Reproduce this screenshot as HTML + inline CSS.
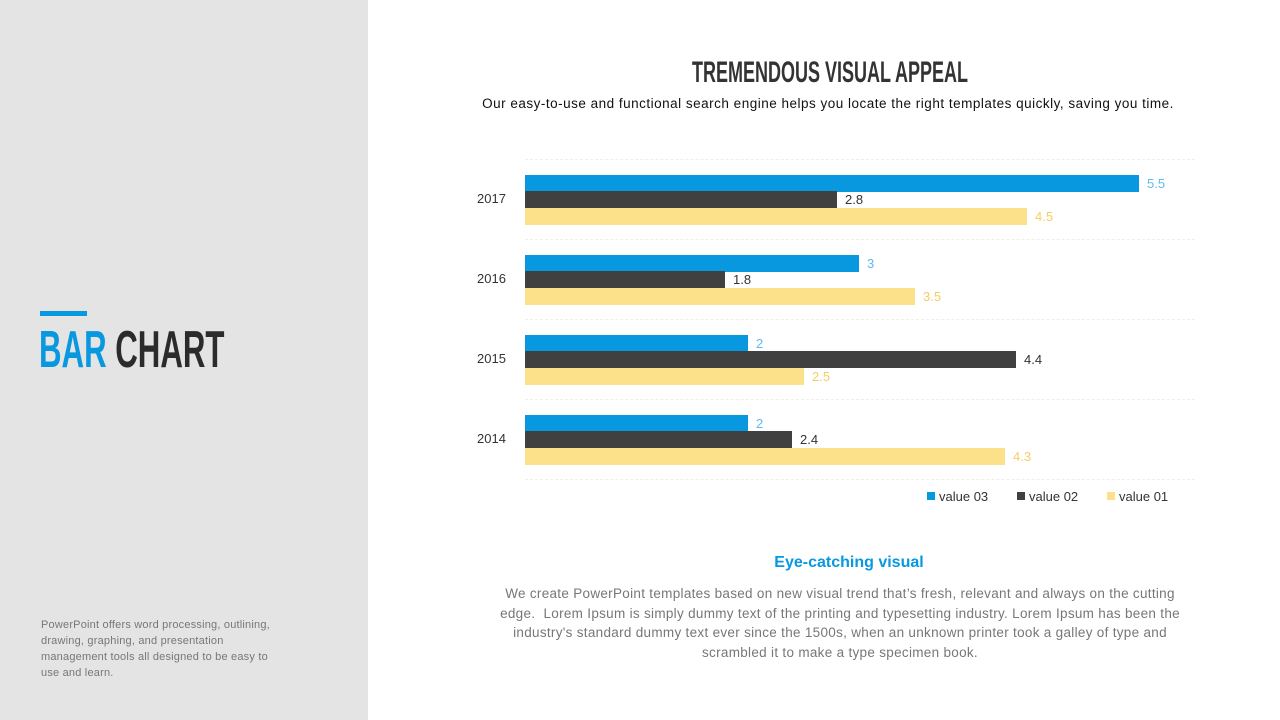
<!DOCTYPE html>
<html><head><meta charset="utf-8"><style>
body{margin:0;width:1280px;height:720px;position:relative;background:#fff;font-family:"Liberation Sans",sans-serif;overflow:hidden}
.left{position:absolute;left:0;top:0;width:368px;height:720px;background:#e4e4e4}
.t{position:absolute;white-space:nowrap}
.cond{font-family:"Liberation Sans Narrow","Liberation Sans",sans-serif;font-weight:bold}
.bar{position:absolute;left:525px;height:17px}
.lbl{position:absolute;font-size:13px}
.grid{position:absolute;left:525px;width:670px;border-top:1px dashed #eee}
</style></head><body>
<div class="left"></div>
<div style="position:absolute;left:40px;top:311px;width:47px;height:5px;background:#0898e0"></div>
<div class="t cond" style="left:39px;top:322px;font-size:52px;line-height:56px;transform:scaleX(0.6);transform-origin:left"><span style="color:#0898e0">BAR</span> <span style="color:#2b2b2b">CHART</span></div>
<div class="t" style="left:41px;top:617px;font-size:11px;line-height:16px;color:#777;white-space:normal;width:242px;letter-spacing:0.2px">PowerPoint offers word processing, outlining, drawing, graphing, and presentation management tools all designed to be easy to use and learn.</div>
<div class="t cond" style="left:692px;top:56px;font-size:30px;color:#333;transform:scaleX(0.6);transform-origin:0 0">TREMENDOUS VISUAL APPEAL</div>
<div class="t" style="width:1290px;text-align:center;top:96px;font-size:13.5px;color:#111;letter-spacing:0.5px;left:183px">Our easy-to-use and functional search engine helps you locate the right templates quickly, saving you time.</div>

<div class="grid" style="top:159px"></div><div class="grid" style="top:239px"></div><div class="grid" style="top:319px"></div><div class="grid" style="top:399px"></div><div class="grid" style="top:479px"></div>

<div class="lbl" style="left:477px;top:191px;color:#333">2017</div>
<div class="bar" style="top:175px;width:614px;background:#0898e0"></div><div class="lbl" style="left:1147px;top:176px;color:#5bbcf0">5.5</div>
<div class="bar" style="top:191px;width:312px;background:#404040"></div><div class="lbl" style="left:845px;top:192px;color:#333">2.8</div>
<div class="bar" style="top:208px;width:502px;background:#fde08a"></div><div class="lbl" style="left:1035px;top:209px;color:#f4cf60">4.5</div>

<div class="lbl" style="left:477px;top:271px;color:#333">2016</div>
<div class="bar" style="top:255px;width:334px;background:#0898e0"></div><div class="lbl" style="left:867px;top:256px;color:#5bbcf0">3</div>
<div class="bar" style="top:271px;width:200px;background:#404040"></div><div class="lbl" style="left:733px;top:272px;color:#333">1.8</div>
<div class="bar" style="top:288px;width:390px;background:#fde08a"></div><div class="lbl" style="left:923px;top:289px;color:#f4cf60">3.5</div>

<div class="lbl" style="left:477px;top:351px;color:#333">2015</div>
<div class="bar" style="top:335px;width:223px;background:#0898e0"></div><div class="lbl" style="left:756px;top:336px;color:#5bbcf0">2</div>
<div class="bar" style="top:351px;width:491px;background:#404040"></div><div class="lbl" style="left:1024px;top:352px;color:#333">4.4</div>
<div class="bar" style="top:368px;width:279px;background:#fde08a"></div><div class="lbl" style="left:812px;top:369px;color:#f4cf60">2.5</div>

<div class="lbl" style="left:477px;top:431px;color:#333">2014</div>
<div class="bar" style="top:415px;width:223px;background:#0898e0"></div><div class="lbl" style="left:756px;top:416px;color:#5bbcf0">2</div>
<div class="bar" style="top:431px;width:267px;background:#404040"></div><div class="lbl" style="left:800px;top:432px;color:#333">2.4</div>
<div class="bar" style="top:448px;width:480px;background:#fde08a"></div><div class="lbl" style="left:1013px;top:449px;color:#f4cf60">4.3</div>

<div style="position:absolute;left:927px;top:492px;width:8px;height:8px;background:#0898e0"></div><div class="lbl" style="left:939px;top:489px;color:#333">value 03</div>
<div style="position:absolute;left:1017px;top:492px;width:8px;height:8px;background:#404040"></div><div class="lbl" style="left:1029px;top:489px;color:#333">value 02</div>
<div style="position:absolute;left:1107px;top:492px;width:8px;height:8px;background:#fde08a"></div><div class="lbl" style="left:1119px;top:489px;color:#333">value 01</div>

<div class="t" style="left:368px;width:962px;text-align:center;top:554px;font-size:16px;font-weight:bold;color:#0898e0">Eye-catching visual</div>
<div class="t" style="left:484px;width:712px;text-align:center;top:584px;font-size:13.5px;line-height:19.5px;color:#777;white-space:normal;letter-spacing:0.3px">We create PowerPoint templates based on new visual trend that’s fresh, relevant and always on the cutting edge.&nbsp; Lorem Ipsum is simply dummy text of the printing and typesetting industry. Lorem Ipsum has been the industry's standard dummy text ever since the 1500s, when an unknown printer took a galley of type and scrambled it to make a type specimen book.</div>
</body></html>
